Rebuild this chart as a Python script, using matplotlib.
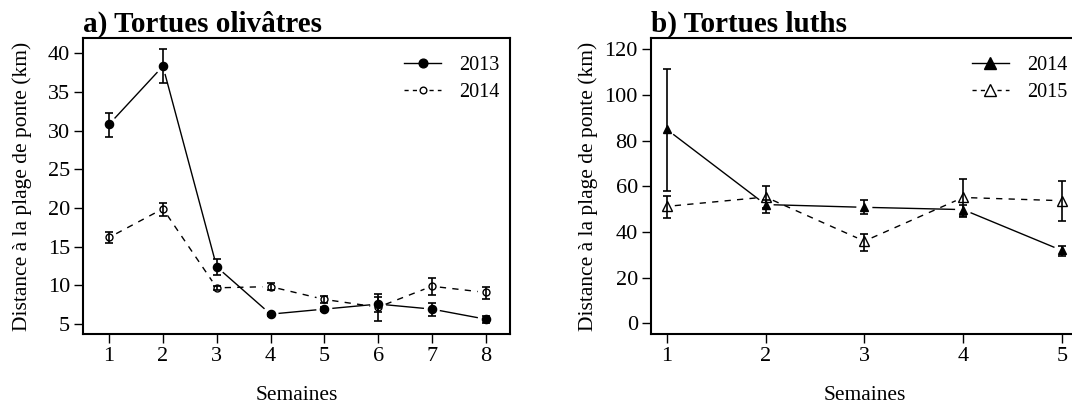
import numpy as np
import matplotlib
matplotlib.use('Agg')
import matplotlib.pyplot as plt
from matplotlib.lines import Line2D

plt.rcParams['font.family'] = ['Liberation Serif', 'DejaVu Serif']

# a) Tortues olivatres
weeks_a = [1, 2, 3, 4, 5, 6, 7, 8]
olive_2013 = [30.8, 38.3, 12.4, 6.3, 6.95, 7.6, 6.95, 5.65]
olive_2013_lo = [29.2, 36.1, 11.3, 6.1, 6.7, 6.6, 6.1, 5.2]
olive_2013_hi = [32.3, 40.5, 13.4, 6.5, 7.2, 8.55, 7.8, 6.05]
olive_2014 = [16.2, 19.9, 9.7, 9.85, 8.2, 7.2, 9.9, 9.1]
olive_2014_lo = [15.5, 19.0, 9.45, 9.4, 7.8, 5.45, 8.8, 8.3]
olive_2014_hi = [16.9, 20.7, 9.95, 10.3, 8.7, 8.85, 11.0, 9.85]

# b) Tortues luths
weeks_b = [1, 2, 3, 4, 5]
luth_2014 = [84.9, 52.0, 50.8, 49.8, 31.9]
luth_2014_lo = [58.1, 48.3, 48.0, 46.6, 29.4]
luth_2014_hi = [111.5, 54.0, 53.8, 52.0, 33.8]
luth_2015 = [51.2, 55.3, 36.0, 55.1, 53.7]
luth_2015_lo = [46.0, 50.5, 31.8, 47.0, 44.7]
luth_2015_hi = [55.6, 60.3, 39.3, 63.3, 62.2]

fig = plt.figure(figsize=(10.72, 4.05), dpi=100)
ax1 = fig.add_axes([0.0777, 0.1746, 0.398, 0.7308])
ax2 = fig.add_axes([0.6073, 0.1746, 0.398, 0.7308])

ax1.set_xlim(0.52, 8.45)
ax1.set_ylim(3.7, 41.9)
ax2.set_xlim(0.84, 5.16)
ax2.set_ylim(-4.8, 124.8)

DASH = (0, (4.5, 4.5))
GAP = 8  # pixels left blank round each point (like R type="b")

# marker sizes (pt): filled / open
MS = {('o', True): 5.9, ('o', False): 5.0, ('^', True): 6.0, ('^', False): 7.2}


def b_line(ax, x, y, ls):
    # segments shortened at both ends, in pixel space
    pts = ax.transData.transform(np.column_stack([x, y]))
    inv = ax.transData.inverted()
    for p, q in zip(pts[:-1], pts[1:]):
        d = q - p
        n = np.hypot(*d)
        if n <= 2 * GAP:
            continue
        u = d / n
        seg = inv.transform(np.array([p + u * GAP, q - u * GAP]))
        ax.plot(seg[:, 0], seg[:, 1], color='black', lw=1.0, ls=ls,
                solid_capstyle='butt', dash_capstyle='butt')


def series(ax, x, y, lo, hi, marker, filled, ls):
    b_line(ax, x, y, ls)
    y = np.array(y)
    err = [y - np.array(lo), np.array(hi) - y]
    ax.errorbar(x, y, yerr=err, fmt='none', ecolor='black', elinewidth=1.2,
                capsize=3.0, capthick=1.2, zorder=3)
    ax.plot(x, y, ls='none', marker=marker, ms=MS[(marker, filled)],
            mfc='black' if filled else 'none', mec='black', mew=1.0, zorder=4)


series(ax1, weeks_a, olive_2013, olive_2013_lo, olive_2013_hi, 'o', True, '-')
series(ax1, weeks_a, olive_2014, olive_2014_lo, olive_2014_hi, 'o', False, DASH)
series(ax2, weeks_b, luth_2014, luth_2014_lo, luth_2014_hi, '^', True, '-')
series(ax2, weeks_b, luth_2015, luth_2015_lo, luth_2015_hi, '^', False, DASH)

for ax, weeks, yt in [(ax1, weeks_a, range(5, 45, 5)), (ax2, weeks_b, range(0, 140, 20))]:
    ax.set_xticks(weeks)
    ax.set_yticks(list(yt))
    ax.tick_params(length=6.5, width=1.0, labelsize=16, pad=3, direction='out')
    for s in ax.spines.values():
        s.set_linewidth(1.5)
    ax.set_xlabel('Semaines', fontsize=15.5, labelpad=14)
    ax.set_ylabel('Distance à la plage de ponte (km)', fontsize=15.5)

ax1.yaxis.set_label_coords(-0.12, 0.5)
ax2.yaxis.set_label_coords(-0.125, 0.5)

ax1.set_title('a) Tortues olivâtres', loc='left', fontsize=21, fontweight='bold', pad=3)
ax2.set_title('b) Tortues luths', loc='left', fontsize=21, fontweight='bold', pad=3)


# legends
def leg(ax, labels, marker, big):
    h = [Line2D([], [], color='black', lw=1.0, marker=marker, ms=big[0],
                mfc='black', mec='black'),
         Line2D([], [], color='black', lw=1.0, ls=(0, (3, 3)), marker=marker, ms=big[1],
                mfc='white', mec='black')]
    ax.legend(h, labels, loc='upper right', bbox_to_anchor=(0.995, 0.968), frameon=False,
              fontsize=14.5, handlelength=1.85, handletextpad=0.9, labelspacing=0.42,
              borderaxespad=0)


leg(ax1, ['2013', '2014'], 'o', (6.3, 4.8))
leg(ax2, ['2014', '2015'], '^', (8.0, 8.0))

fig.savefig('out.png', dpi=100)
